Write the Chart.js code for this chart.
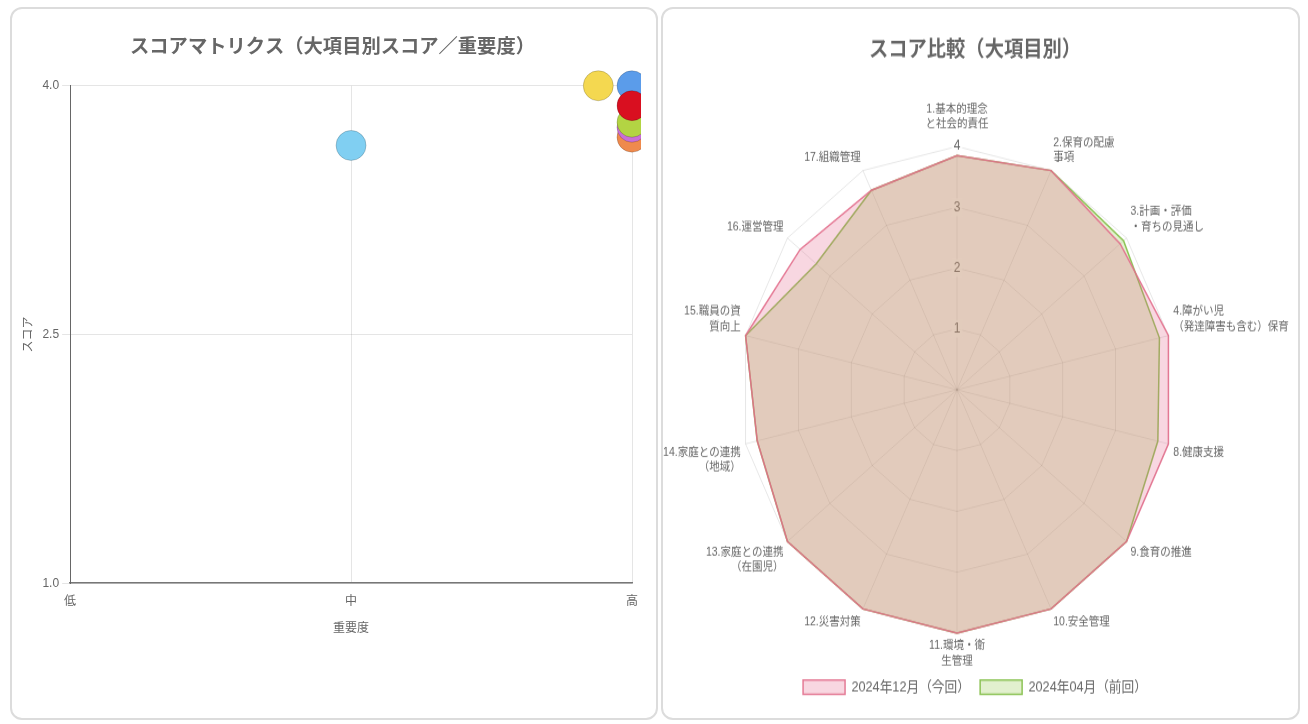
<!DOCTYPE html>
<html lang="ja">
<head>
<meta charset="utf-8">
<script src="https://cdn.jsdelivr.net/npm/chart.js@4.4.3/dist/chart.umd.min.js"></script>
<style>
  html, body { margin: 0; padding: 0; background: #fff; }
  body { width: 1308px; height: 724px; position: relative; overflow: hidden; }
  .card { position: absolute; top: 7px; height: 713px; border: 2px solid #dcdcdc; border-radius: 12px; background: #fff; box-sizing: border-box; }
  #card-left { left: 10px; width: 648px; }
  #card-right { left: 661px; width: 639px; }
  .box { position: absolute; }
  #box-matrix { left: 5px; top: 15px; width: 631px; height: 616px; }
  #box-radar { left: -20px; top: 15px; width: 664px; height: 607.5px; transform: scaleY(1.12); transform-origin: top left; }
</style>
</head>
<body>
<div class="card" id="card-left"><div class="box" id="box-matrix"><canvas id="c-matrix"></canvas></div></div>
<div class="card" id="card-right"><div class="box" id="box-radar"><canvas id="c-radar"></canvas></div></div>
<script>
// bubble matrix: importance (1=低, 2=中, 3=高) vs score
const importanceTicks = ["低", "中", "高"];
const bubbleX = [3, 3, 3, 3, 3, 2.88, 2];
const bubbleY = [3.69, 3.75, 3.78, 4.0, 3.88, 4.0, 3.64];
const bubbleColors = ["#ef8a4d", "#c96fd6", "#b3d443", "#5b9cea", "#d90f20", "#f4d850", "#80cff2"];

// radar: score by major item
const radarLabels = [
  ["1.基本的理念", "と社会的責任"], ["2.保育の配慮", "事項"], ["3.計画・評価", "・育ちの見通し"],
  ["4.障がい児", "（発達障害も含む）保育"], "8.健康支援", "9.食育の推進", "10.安全管理",
  ["11.環境・衛", "生管理"], "12.災害対策", ["13.家庭との連携", "（在園児）"], ["14.家庭との連携", "（地域）"],
  ["15.職員の資", "質向上"], "16.運営管理", "17.組織管理",
];
const scoreNow = [3.85, 4.0, 3.85, 4.0, 4.0, 4.0, 4.0, 4.0, 4.0, 4.0, 3.78, 4.0, 3.7, 3.64];
const scorePrev = [3.85, 4.0, 3.93, 3.83, 3.8, 4.0, 4.0, 4.0, 4.0, 4.0, 3.78, 4.0, 3.32, 3.64];
const seriesNames = ["2024年12月（今回）", "2024年04月（前回）"];

const TXT = "#666";
const GRID = "rgba(0,0,0,0.1)";
Chart.defaults.font.family = "'Helvetica Neue', Helvetica, Arial, 'Noto Sans CJK JP', sans-serif";
Chart.defaults.color = TXT;
Chart.defaults.animation = false;

const titleFont = { size: 19.3, weight: "bold" };

new Chart(document.getElementById("c-matrix"), {
  type: "bubble",
  data: {
    datasets: [{
      data: bubbleX.map((x, i) => ({ x, y: bubbleY[i], r: 15 })),
      backgroundColor: bubbleColors,
      borderColor: "rgba(0,0,0,0.18)",
      borderWidth: 1,
      clip: { left: 20, top: 20, right: 9, bottom: 20 },
    }],
  },
  options: {
    responsive: true, maintainAspectRatio: false,
    plugins: {
      legend: { display: false },
      tooltip: { enabled: false },
      title: { display: true, text: "スコアマトリクス（大項目別スコア／重要度）", color: TXT, font: titleFont, padding: { top: 12.5, bottom: 26.1 } },
    },
    scales: {
      x: {
        type: "linear", min: 1, max: 3,
        ticks: { stepSize: 1, color: TXT, font: { size: 12 }, callback: (v) => importanceTicks[v - 1] ?? "" },
        grid: { color: GRID, tickColor: "transparent" },
        border: { color: "#777", width: 1.5 },
        title: { display: true, text: "重要度", color: TXT, font: { size: 12 }, padding: { top: 10 } },
      },
      y: {
        min: 1, max: 4,
        ticks: { stepSize: 1.5, color: TXT, font: { size: 12 }, callback: (v) => Number(v).toFixed(1) },
        grid: { color: GRID },
        border: { color: "#666", width: 1 },
        title: { display: true, text: "スコア", color: TXT, font: { size: 12 } },
      },
    },
  },
});

// legend padding is kept small so it sits close to the radar; the item gap is topped up with spaces
const legendGap = "  ";

new Chart(document.getElementById("c-radar"), {
  type: "radar",
  data: {
    labels: radarLabels,
    datasets: [
      { label: seriesNames[0], data: scoreNow, backgroundColor: "rgba(228,96,135,0.25)", borderColor: "rgba(226,110,140,0.9)", borderWidth: 1.5, pointRadius: 0 },
      { label: seriesNames[1], data: scorePrev, backgroundColor: "rgba(140,195,60,0.25)", borderColor: "rgba(130,190,70,0.9)", borderWidth: 1.5, pointRadius: 0 },
    ],
  },
  options: {
    responsive: true, maintainAspectRatio: false,
    plugins: {
      legend: {
        position: "bottom",
        labels: {
          color: TXT, font: { size: 12.7 }, boxWidth: 42, padding: 3.2,
          generateLabels: (chart) => Chart.defaults.plugins.legend.labels.generateLabels(chart)
            .map((it, i, all) => ({ ...it, text: i < all.length - 1 ? it.text + legendGap : it.text })),
        },
      },
      tooltip: { enabled: false },
      title: { display: true, text: "スコア比較（大項目別）", color: TXT, font: titleFont, padding: { top: 12.5, bottom: 27.75 } },
    },
    scales: {
      r: {
        min: 0, max: 4,
        ticks: { stepSize: 1, color: TXT, font: { size: 12 } },
        grid: { color: GRID },
        angleLines: { color: GRID },
        // only the top label keeps the extra gap for the tick backdrop
        pointLabels: { color: TXT, font: { size: 10.5, lineHeight: 1.28 }, padding: (ctx) => (ctx.index === 0 ? 5 : -3) },
      },
    },
  },
});
</script>
</body>
</html>
